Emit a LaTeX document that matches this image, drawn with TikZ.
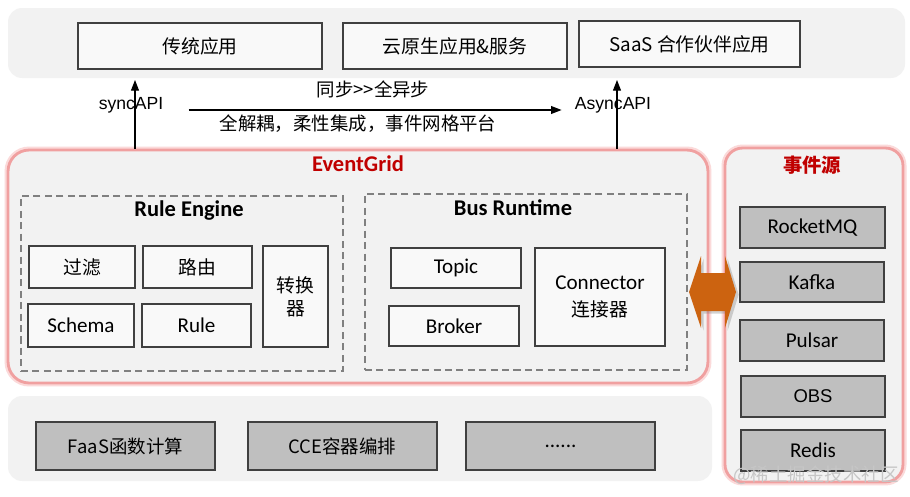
\documentclass[tikz,border=0pt]{standalone}
\usepackage{fontspec}
\setmainfont{Carlito}
\newfontfamily\cjk{Noto Sans CJK SC}
\newfontfamily\arialfont{Liberation Sans}
\usetikzlibrary{arrows.meta,shadows}
\definecolor{egred}{HTML}{C00000}
\definecolor{egpink}{HTML}{F0A0A0}
\definecolor{egglow}{HTML}{FBDADA}
\definecolor{panelgray}{HTML}{F2F2F2}
\definecolor{boxgray}{HTML}{BFBFBF}
\definecolor{boxline}{HTML}{404040}
\definecolor{busorange}{HTML}{CC6310}

\begin{document}
\begin{tikzpicture}[x=0.02cm, y=-0.02cm,
  box/.style={draw=boxline, line width=1.1pt, fill=white!55!panelgray, inner sep=0pt, align=center, font=\fontsize{12}{14}\selectfont},
  graybox/.style={box, fill=boxgray},
  dashbox/.style={draw=gray, dashed, dash pattern=on 4pt off 2.5pt, line width=0.9pt, inner sep=0pt},
  panel/.style={fill=panelgray, draw=egpink, line width=1.6pt, rounded corners=10pt, inner sep=0pt, preaction={draw=egglow, line width=4pt}},
  band/.style={fill=panelgray, rounded corners=8pt},
  arr/.style={-{Triangle[length=6pt,width=4.5pt]}, line width=0.6pt},
  cjklabel/.style={font=\cjk\fontsize{10.5}{12}\selectfont, inner sep=0pt},
  title/.style={font=\bfseries\fontsize{12.8}{14}\selectfont, inner sep=0pt}]
  \useasboundingbox[fill=white] (0,0) rectangle (910,497);

  % application layer
  \fill[band] (8,8) rectangle (905,78);
  \node[box, font=\cjk\fontsize{10.7}{12}\selectfont, minimum width=4.88cm, minimum height=0.92cm] (trad) at (200,46) {传统应用};
  \node[box, font=\cjk\fontsize{10.7}{12}\selectfont, minimum width=4.48cm, minimum height=0.92cm] (cloud) at (455,46) {云原生应用\&服务};
  \node[box, font=\cjk\fontsize{10.7}{12}\selectfont, minimum width=4.42cm, minimum height=0.92cm] (saas) at (689.5,44) {SaaS 合作伙伴应用};

  % event grid
  \node[panel, minimum width=14cm, minimum height=4.66cm, rounded corners=12pt] (eg) at (358,266.5) {};
  \node[title, text=egred] (egtitle) at (358,164) {EventGrid};

  % rule engine
  \node[dashbox, minimum width=6.44cm, minimum height=3.5cm] (re) at (182,283.5) {};
  \node[title] (retitle) at (189,211) {Rule Engine};
  \node[box, font=\cjk\fontsize{10.7}{12}\selectfont, minimum width=2.12cm, minimum height=0.84cm] (filter) at (82,267) {过滤};
  \node[box, font=\cjk\fontsize{10.7}{12}\selectfont, minimum width=2.18cm, minimum height=0.84cm] (route) at (197.5,267) {路由};
  \node[box, minimum width=2.12cm, minimum height=0.86cm] (schema) at (81,325.5) {Schema};
  \node[box, minimum width=2.18cm, minimum height=0.86cm] (rule) at (196.5,325.5) {Rule};
  \node[box, font=\cjk\fontsize{10.7}{13}\selectfont, minimum width=1.3cm, minimum height=2.02cm] (trans) at (295.5,296.5) {转换\\器};

  % bus runtime
  \node[dashbox, minimum width=6.44cm, minimum height=3.52cm] (bus) at (526,282) {};
  \node[title] (bustitle) at (513,208) {Bus Runtime};
  \node[box, minimum width=2.6cm, minimum height=0.8cm] (topic) at (456,268) {Topic};
  \node[box, minimum width=2.6cm, minimum height=0.8cm] (broker) at (454,326) {Broker};
  \node[box, minimum width=2.6cm, minimum height=1.96cm] (conn) at (600,297) {Connector\\[1pt]{\cjk\fontsize{10.7}{12}\selectfont 连接器}};

  % event sources
  \node[panel, minimum width=3.56cm, minimum height=6.68cm] (src) at (814,315) {};
  \node[title, font=\cjk\bfseries\fontsize{11}{13}\selectfont, text=egred] (srctitle) at (812,165) {事件源};
  \node[graybox, minimum width=2.9cm, minimum height=0.82cm] (rocketmq) at (812.5,227.5) {RocketMQ};
  \node[graybox, minimum width=2.88cm, minimum height=0.8cm] (kafka) at (812,282) {Kafka};
  \node[graybox, minimum width=2.88cm, minimum height=0.82cm] (pulsar) at (812,340.5) {Pulsar};
  \node[graybox, font=\arialfont\fontsize{10.5}{12}\selectfont, minimum width=2.88cm, minimum height=0.82cm] (obs) at (813,396.5) {OBS};
  \node[graybox, minimum width=2.88cm, minimum height=0.82cm] (redis) at (813,450.5) {Redis};

  % compute layer
  \fill[band] (8,396) rectangle (712,481);
  \node[graybox, font=\cjk\fontsize{10.5}{12}\selectfont, minimum width=3.58cm, minimum height=0.96cm] (faas) at (125.5,446) {FaaS函数计算};
  \node[graybox, font=\cjk\fontsize{10.5}{12}\selectfont, minimum width=3.78cm, minimum height=0.96cm] (cce) at (342.5,446) {CCE容器编排};
  \node[graybox, minimum width=3.78cm, minimum height=0.96cm] (more) at (560.5,446) {......};

  % bus <-> sources
  \fill[busorange, drop shadow={opacity=0.35, shadow xshift=1.5pt, shadow yshift=-1.5pt}]
    (689,292) -- (701,256) -- (701,273) -- (725,273) -- (725,256) -- (736,292)
    -- (725,328) -- (725,311) -- (701,311) -- (701,328) -- cycle;

  % sync / async APIs
  \coordinate (synctop) at (135,80);
  \coordinate (asynctop) at (617,80);
  \node[font=\arialfont\fontsize{10}{12}\selectfont, inner sep=0pt] (sync) at (131,105) {syncAPI};
  \node[font=\arialfont\fontsize{10}{12}\selectfont, inner sep=0pt] (async) at (613,105) {AsyncAPI};
  \draw[arr] (synctop |- eg.north) -- (synctop);
  \draw[arr] (asynctop |- eg.north) -- (asynctop);
  \draw[arr] ([xshift=0.5cm, yshift=-0.1cm]sync.east) -- ([xshift=-0.26cm, yshift=-0.1cm]async.west);
  \node[cjklabel] (steptext) at (373,89) {同步>>全异步};
  \node[cjklabel] (decouple) at (358,124) {全解耦，柔性集成，事件网格平台};

  % watermark
  \node[cjklabel, text=gray!45] (mark) at (816,475) {@稀土掘金技术社区};
\end{tikzpicture}
\end{document}
